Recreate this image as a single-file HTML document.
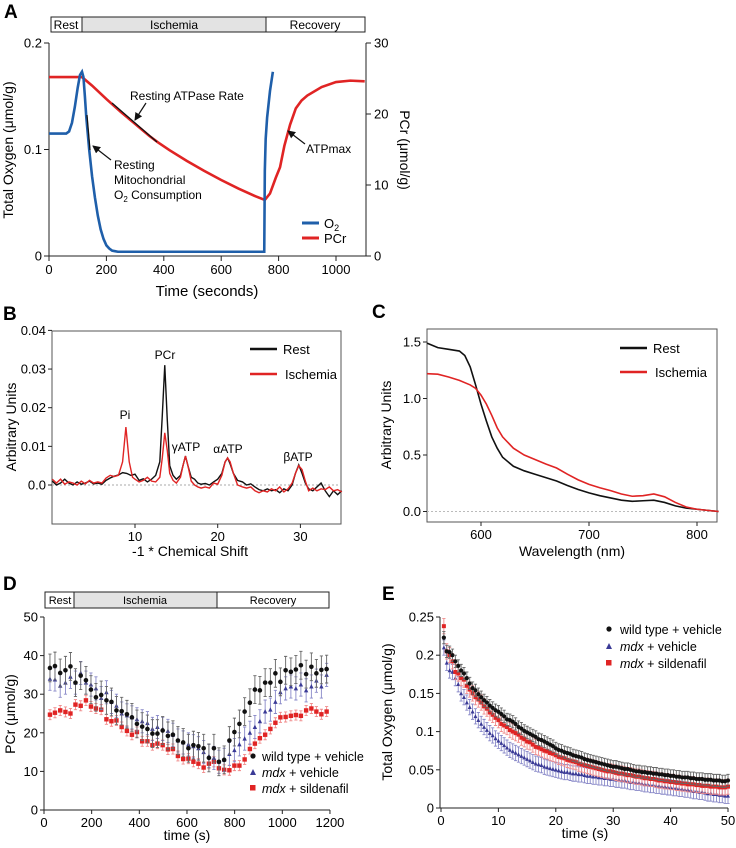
<!DOCTYPE html>
<html><head><meta charset="utf-8"><style>
html,body{margin:0;padding:0;background:#fff}
svg{display:block;font-family:"Liberation Sans",Arial,sans-serif}
</style></head><body>
<svg id="fig" width="736" height="848" viewBox="0 0 736 848" xmlns="http://www.w3.org/2000/svg">
<defs><marker id="ah" markerWidth="8" markerHeight="8" refX="7" refY="4" orient="auto" markerUnits="userSpaceOnUse"><path d="M0,0 L8,4 L0,8 z" fill="#111"/></marker></defs>

<!-- Panel A static -->
<g>
<text x="4" y="18" font-size="19" font-weight="bold">A</text>
<rect x="51" y="17" width="314" height="15" fill="#fff" stroke="#222"/>
<rect x="82" y="17" width="184" height="15" fill="#e3e3e3" stroke="#222"/>
<text x="66" y="29" font-size="12" text-anchor="middle">Rest</text>
<text x="174" y="29" font-size="12" text-anchor="middle">Ischemia</text>
<text x="315" y="29" font-size="12" text-anchor="middle">Recovery</text>
<line x1="49" y1="43" x2="49" y2="256" stroke="#222"/>
<line x1="49" y1="256" x2="366" y2="256" stroke="#222"/>
<line x1="366" y1="43" x2="366" y2="256" stroke="#222"/>
<text transform="translate(13,150) rotate(-90)" font-size="14" text-anchor="middle">Total Oxygen (μmol/g)</text>
<text transform="translate(400,150) rotate(90)" font-size="14" text-anchor="middle">PCr (μmol/g)</text>
<text x="207" y="296" font-size="15" text-anchor="middle">Time (seconds)</text>
<line x1="302" y1="223" x2="319" y2="223" stroke="#1f5faa" stroke-width="3"/>
<text x="324" y="228" font-size="13">O<tspan font-size="9" dy="3">2</tspan></text>
<line x1="302" y1="238" x2="319" y2="238" stroke="#e02424" stroke-width="3"/>
<text x="324" y="243" font-size="13">PCr</text>
<g id="aMarks"></g>
<line x1="112" y1="103" x2="157" y2="142" stroke="#111" stroke-width="1.3"/>
<line x1="87" y1="115" x2="90" y2="150" stroke="#111" stroke-width="1.3"/>
<text x="130" y="100" font-size="12">Resting ATPase Rate</text>
<line x1="146" y1="103" x2="135" y2="120" stroke="#111" stroke-width="1.2" marker-end="url(#ah)"/>
<text font-size="12"><tspan x="114" y="169">Resting</tspan><tspan x="114" y="184">Mitochondrial</tspan><tspan x="114" y="199">O<tspan font-size="8" dy="3">2</tspan><tspan dy="-3"> Consumption</tspan></tspan></text>
<line x1="111" y1="160" x2="93" y2="146" stroke="#111" stroke-width="1.2" marker-end="url(#ah)"/>
<text x="306" y="153" font-size="12">ATPmax</text>
<line x1="305" y1="144" x2="288" y2="131" stroke="#111" stroke-width="1.2" marker-end="url(#ah)"/>
</g>

<!-- Panel B static -->
<g>
<text x="3" y="320" font-size="19" font-weight="bold">B</text>
<rect x="52" y="331" width="289" height="193" fill="none" stroke="#555"/>
<text transform="translate(16,427) rotate(-90)" font-size="14" text-anchor="middle">Arbitrary Units</text>
<text x="190" y="556" font-size="14" text-anchor="middle">-1 * Chemical Shift</text>
<line x1="250" y1="349" x2="277" y2="349" stroke="#111" stroke-width="2.5"/>
<text x="283" y="354" font-size="13">Rest</text>
<line x1="250" y1="374" x2="277" y2="374" stroke="#e02424" stroke-width="2.5"/>
<text x="285" y="379" font-size="13">Ischemia</text>
<text x="125" y="419" font-size="12" text-anchor="middle">Pi</text>
<text x="165" y="359" font-size="12" text-anchor="middle">PCr</text>
<text x="186" y="451" font-size="12" text-anchor="middle">γATP</text>
<text x="228" y="453" font-size="12" text-anchor="middle">αATP</text>
<text x="298" y="461" font-size="12" text-anchor="middle">βATP</text>
<g id="bMarks"></g>
</g>

<!-- Panel C static -->
<g>
<text x="372" y="318" font-size="19" font-weight="bold">C</text>
<rect x="427" y="329" width="290" height="193" fill="none" stroke="#555"/>
<text transform="translate(391,425) rotate(-90)" font-size="14" text-anchor="middle">Arbitrary Units</text>
<text x="572" y="556" font-size="14" text-anchor="middle">Wavelength (nm)</text>
<line x1="620" y1="348" x2="647" y2="348" stroke="#111" stroke-width="2.5"/>
<text x="653" y="353" font-size="13">Rest</text>
<line x1="620" y1="372" x2="647" y2="372" stroke="#e02424" stroke-width="2.5"/>
<text x="655" y="377" font-size="13">Ischemia</text>
<g id="cMarks"></g>
</g>

<!-- Panel D static -->
<g>
<text x="3" y="590" font-size="19" font-weight="bold">D</text>
<rect x="45" y="592" width="284" height="16" fill="#fff" stroke="#222"/>
<rect x="74" y="592" width="143" height="16" fill="#e3e3e3" stroke="#222"/>
<text x="60" y="604" font-size="11" text-anchor="middle">Rest</text>
<text x="145" y="604" font-size="11" text-anchor="middle">Ischemia</text>
<text x="273" y="604" font-size="11" text-anchor="middle">Recovery</text>
<line x1="44" y1="617" x2="44" y2="810" stroke="#222"/>
<line x1="44" y1="810" x2="330" y2="810" stroke="#222"/>
<text transform="translate(15,714) rotate(-90)" font-size="14" text-anchor="middle">PCr (μmol/g)</text>
<text x="187" y="840" font-size="14" text-anchor="middle">time (s)</text>
<circle cx="253" cy="756" r="2.6" fill="#111"/>
<text x="262" y="761" font-size="12.5">wild type + vehicle</text>
<path d="M250,775 L253,769 L256,775 z" fill="#3a3a96"/>
<text x="262" y="777" font-size="12.5"><tspan font-style="italic">mdx</tspan> + vehicle</text>
<rect x="250" y="785" width="5.5" height="5.5" fill="#e02424"/>
<text x="262" y="793" font-size="12.5"><tspan font-style="italic">mdx</tspan> + sildenafil</text>
<g id="dMarks"></g>
</g>

<!-- Panel E static -->
<g>
<text x="382" y="600" font-size="19" font-weight="bold">E</text>
<line x1="440" y1="617" x2="440" y2="808" stroke="#222"/>
<line x1="440" y1="808" x2="728" y2="808" stroke="#222"/>
<text transform="translate(392,712) rotate(-90)" font-size="14" text-anchor="middle">Total Oxygen (μmol/g)</text>
<text x="585" y="838" font-size="14" text-anchor="middle">time (s)</text>
<circle cx="609" cy="629" r="2.6" fill="#111"/>
<text x="620" y="634" font-size="12.5">wild type + vehicle</text>
<path d="M606,649 L609,643 L612,649 z" fill="#3a3a96"/>
<text x="620" y="651" font-size="12.5"><tspan font-style="italic">mdx</tspan> + vehicle</text>
<rect x="606" y="660" width="5.5" height="5.5" fill="#e02424"/>
<text x="620" y="668" font-size="12.5"><tspan font-style="italic">mdx</tspan> + sildenafil</text>
<g id="eMarks"></g>
</g>
</svg>
<script>
// ---- Panel A data ----
const aO2T = [0,60,70,80,90,100,108,115,120,125,130,140,150,160,170,180,190,200,210,220,230,240,260,400,600,750,752,755,760,770,780];
const aO2V = [.115,.115,.117,.125,.140,.158,.170,.173,.168,.150,.130,.100,.075,.055,.038,.025,.016,.010,.007,.005,.0045,.004,.004,.004,.004,.004,.080,.110,.130,.155,.173];
const aPcrT = [0,115,150,200,250,300,350,380,420,480,540,600,660,720,752,770,790,805,820,840,860,880,900,950,1000,1050,1100];
const aPcrV = [25.2,25.2,24.0,22.1,20.3,18.6,16.9,16.0,14.9,13.4,12.0,10.7,9.5,8.4,7.9,8.8,11.0,12.5,15.5,18.5,20.8,21.9,22.6,23.8,24.5,24.7,24.6];
const aXTicks = [0,200,400,600,800,1000];
const aYLTicks = [0,0.1,0.2];
const aYLLabels = ["0","0.1","0.2"];
const aYRTicks = [0,10,20,30];
// ---- Panel B data ----
const bRestX = [0,0.5,1,1.5,2,2.5,3,3.5,4,4.5,5,5.5,6,6.5,7,7.5,8,8.5,9,9.5,10,10.5,11,11.5,12,12.5,13,13.3,13.6,13.9,14.2,14.6,15,15.5,15.8,16.1,16.4,16.8,17.2,17.6,18,18.5,19,19.5,20,20.5,20.9,21.2,21.5,21.9,22.4,23,23.5,24,24.5,25,25.5,26,26.5,27,27.5,28,28.5,29,29.4,29.8,30.2,30.6,31,31.5,32,32.5,33,33.5,34,34.5,35];
const bRestY = [1.0,0,0.5,1.5,0.5,0,0.8,0.2,0.5,1.0,0.3,0.5,0.2,1.2,1.8,2.3,2.6,3.2,3.0,2.5,2.8,1.2,1.6,0.8,1.5,2.5,6,18,31,17,5,2.5,1.5,2.5,5,7.5,5,2,1.5,0.5,0.2,0.4,0,0.8,1.5,3,6,7,5.5,3,1.2,0.8,0,0.3,-0.5,-1.2,-1.5,-1.0,-1.5,-1.2,-2.0,-1.0,-1.5,0,3,5.2,3,0.5,-1,-1.5,-0.5,0.5,-1.5,-3,-1.5,-2.5,-1.5];
const bIschX = [0,0.5,1,1.5,2,2.5,3,3.5,4,4.5,5,5.5,6,6.5,7,7.5,8,8.5,8.9,9.3,9.7,10,10.5,11,11.5,12,12.5,13,13.3,13.6,13.9,14.2,14.6,15,15.5,15.8,16.1,16.4,16.8,17.2,17.6,18,18.5,19,19.5,20,20.5,20.9,21.2,21.5,21.9,22.4,23,23.5,24,24.5,25,25.5,26,26.5,27,27.5,28,28.5,29,29.4,29.8,30.2,30.6,31,31.5,32,32.5,33,33.5,34,34.5,35];
const bIschY = [1.5,0.5,1.5,0.2,0.8,0.5,0,1.0,0.3,1.2,0.5,0.8,0.5,1.8,2.5,2.2,2.5,6,15,6,2,1.5,0.8,1.2,2,1.0,0.8,2,7,13.5,9,3,1.2,0.5,2,5,7.5,5,1,0,-0.5,-0.8,-0.5,-0.8,0.5,0.2,2.5,6,7,6,3,0,-0.5,-0.8,-0.5,-1.5,-2,-1.5,-1.8,-1.0,-1.5,-0.5,-1.8,-1.0,0.5,3,5,4,1,-1.5,-0.8,-1.5,-1.0,-1.2,-0.5,-1.5,-1.2,-1.8];
const bXTicks = [10,20,30];
const bYTicks = [0,0.01,0.02,0.03,0.04];
const bYLabels = ["0.0","0.01","0.02","0.03","0.04"];
// ---- Panel C data ----
const cRestX = [550,560,570,580,585,590,595,600,605,610,615,620,630,640,650,660,670,680,690,700,710,720,730,740,750,760,770,780,790,800,810,820];
const cRestY = [1.49,1.45,1.435,1.42,1.38,1.28,1.12,0.95,0.80,0.66,0.56,0.48,0.40,0.36,0.33,0.30,0.27,0.23,0.195,0.165,0.14,0.12,0.10,0.09,0.095,0.10,0.08,0.05,0.03,0.02,0.01,0];
const cIschX = [550,560,570,580,590,595,600,605,610,615,620,630,640,650,660,670,680,690,700,710,720,730,740,750,760,770,780,790,800,810,820];
const cIschY = [1.22,1.215,1.19,1.16,1.12,1.09,1.03,0.95,0.85,0.74,0.66,0.56,0.50,0.46,0.42,0.385,0.33,0.28,0.24,0.21,0.185,0.155,0.135,0.14,0.155,0.13,0.08,0.04,0.02,0.01,0];
const cXTicks = [600,700,800];
const cYTicks = [0,0.5,1.0,1.5];
const cYLabels = ["0.0","0.5","1.0","1.5"];
// ---- Panel D data ----
const dTime = [25,46,68,90,111,132,154,176,197,218,240,262,283,304,326,348,369,390,412,434,455,476,498,520,541,562,584,606,627,648,670,692,713,734,756,778,799,820,842,864,885,906,928,950,971,992,1014,1036,1057,1078,1100,1122,1143,1164,1186];
const dWT = [36.8,37.3,35.5,36.2,37.2,33.0,34.8,33.6,31.2,29.2,29.8,28.4,28.0,25.8,25.6,24.8,24.0,22.3,21.6,21.0,19.8,19.8,20.6,19.2,19.5,18.0,17.5,16.0,16.8,16.5,16.0,13.5,16.0,12.5,13.0,18.0,20.2,22.3,25.5,27.8,31.2,31.0,33.0,33.0,35.4,33.2,36.2,35.8,36.4,37.5,35.2,37.1,35.4,36.3,36.5];
const dMdx = [34.0,33.8,32.2,33.0,34.5,33.0,35.5,33.0,32.5,31.5,29.0,30.5,28.0,27.0,25.0,24.5,24.0,23.5,23.0,22.5,21.0,21.5,21.0,20.5,19.5,18.0,17.5,17.0,16.5,16.0,15.0,14.0,13.5,12.5,13.0,14.5,15.5,17.0,18.5,20.0,21.5,23.0,25.5,26.0,28.0,30.5,31.5,32.0,31.5,32.5,31.0,32.0,33.5,32.0,35.0];
const dSild = [24.7,25.2,25.8,25.4,25.0,27.3,27.0,28.4,26.8,26.3,26.0,23.5,23.0,23.2,21.5,20.5,19.5,20.2,17.8,17.8,16.8,17.2,16.8,15.7,15.8,14.0,13.2,13.3,12.5,12.0,11.0,12.0,12.5,10.8,10.4,10.3,11.5,11.5,13.1,15.8,17.2,18.6,19.5,21.0,22.6,24.0,24.1,24.4,24.6,24.4,25.8,26.3,25.5,24.8,25.5];
const dErr = [3.6,3.0,1.3];
const dXTicks = [0,200,400,600,800,1000,1200];
const dYTicks = [0,10,20,30,40,50];
// ---- Panel E data ----
const eTime = [0.5,1,1.5,2,2.5,3,3.5,4,4.5,5,5.5,6,6.5,7,7.5,8,8.5,9,9.5,10,10.5,11,11.5,12,12.5,13,13.5,14,14.5,15,15.5,16,16.5,17,17.5,18,18.5,19,19.5,20,20.5,21,21.5,22,22.5,23,23.5,24,24.5,25,25.5,26,26.5,27,27.5,28,28.5,29,29.5,30,30.5,31,31.5,32,32.5,33,33.5,34,34.5,35,35.5,36,36.5,37,37.5,38,38.5,39,39.5,40,40.5,41,41.5,42,42.5,43,43.5,44,44.5,45,45.5,46,46.5,47,47.5,48,48.5,49,49.5,50];
const eWT = [.223,.205,.204,.200,.192,.186,.180,.176,.170,.163,.157,.154,.149,.145,.141,.138,.134,.131,.128,.126,.123,.120,.116,.115,.113,.110,.106,.104,.101,.099,.097,.095,.093,.090,.089,.087,.085,.083,.081,.078,.076,.075,.073,.072,.071,.069,.068,.067,.066,.064,.063,.062,.061,.060,.059,.058,.057,.056,.055,.054,.054,.053,.052,.051,.051,.050,.049,.048,.048,.047,.047,.046,.046,.045,.045,.044,.044,.043,.043,.042,.042,.041,.041,.040,.040,.040,.039,.039,.038,.038,.038,.037,.037,.037,.036,.036,.036,.035,.035,.036];
const eMdx = [.210,.190,.180,.178,.170,.162,.150,.145,.138,.132,.126,.120,.115,.110,.106,.102,.098,.095,.091,.088,.085,.082,.079,.076,.074,.072,.070,.068,.066,.064,.062,.060,.058,.057,.056,.054,.053,.052,.051,.050,.049,.048,.047,.047,.046,.045,.045,.044,.044,.043,.042,.042,.041,.041,.040,.040,.039,.039,.038,.038,.037,.037,.036,.036,.035,.034,.034,.033,.033,.032,.031,.031,.030,.030,.029,.029,.028,.028,.027,.027,.026,.026,.025,.025,.024,.024,.023,.022,.022,.021,.021,.020,.019,.019,.018,.018,.017,.017,.016,.016];
const eSild = [.238,.205,.200,.192,.178,.176,.170,.168,.160,.155,.150,.145,.142,.138,.133,.130,.125,.122,.118,.115,.110,.108,.106,.102,.100,.098,.096,.092,.090,.087,.086,.083,.080,.079,.077,.075,.074,.072,.071,.069,.067,.066,.065,.063,.062,.061,.060,.058,.057,.056,.055,.054,.053,.052,.051,.050,.049,.048,.048,.047,.046,.045,.045,.044,.043,.043,.042,.041,.041,.040,.039,.039,.038,.038,.037,.036,.036,.035,.035,.034,.034,.033,.033,.032,.032,.031,.031,.031,.030,.030,.029,.029,.029,.028,.028,.028,.027,.027,.027,.028];
const eErr = [0.008,0.010,0.010];
const eXTicks = [0,10,20,30,40,50];
const eYTicks = [0,0.05,0.1,0.15,0.2,0.25];
const eYLabels = ["0","0.05","0.1","0.15","0.2","0.25"];

const NS = "http://www.w3.org/2000/svg";
const svg = document.getElementById("fig");
function mk(tag, attrs, parent){const e=document.createElementNS(NS,tag);for(const k in attrs)e.setAttribute(k,attrs[k]);(parent||svg).appendChild(e);return e;}
function pathD(xs,ys,fx,fy){return xs.map((x,i)=>(i?"L":"M")+fx(x).toFixed(2)+","+fy(ys[i]).toFixed(2)).join(" ");}
function xTicks(vals,labels,fx,y0,len,parent,prefix){vals.forEach((v,i)=>{const x=fx(v);
 const t=mk("line",{x1:x,y1:y0,x2:x,y2:y0+len,stroke:"#222"},parent);
 
 
 const l=mk("text",{x:x,y:y0+len+13,"font-size":13,"text-anchor":"middle"},parent);l.textContent=labels[i];
 
 });}
function yTicks(vals,labels,fy,x0,len,parent,prefix,anchor){vals.forEach((v,i)=>{const y=fy(v);
 const t=mk("line",{x1:x0,y1:y,x2:x0+len,y2:y,stroke:"#222"},parent);
 
 
 const l=mk("text",{x:x0+len+(len<0?-2:3),y:y+4.5,"font-size":13,"text-anchor":anchor||"end"},parent);l.textContent=labels[i];
 
 });}

// Panel A
const gA=document.getElementById("aMarks");
const axA=t=>49+t*0.287, ayL=v=>256-v*1065, ayR=v=>256-v*7.1;
xTicks(aXTicks,aXTicks.map(String),axA,256,5,gA,"a");
yTicks(aYLTicks,aYLLabels,ayL,49,-5,gA,"a-left");
yTicks(aYRTicks,aYRTicks.map(String),ayR,366,5,gA,"a-right","start");
const pA1=mk("path",{d:pathD(aPcrT,aPcrV,axA,ayR),fill:"none",stroke:"#e02424","stroke-width":2.6},gA);


const pA2=mk("path",{d:pathD(aO2T,aO2V,axA,ayL),fill:"none",stroke:"#1f5faa","stroke-width":2.6},gA);



// Panel B
const gB=document.getElementById("bMarks");
const bx=v=>52.3+v*8.27, by=v=>485-v*3865;
xTicks(bXTicks,bXTicks.map(String),bx,524,4,gB,"b");
yTicks(bYTicks,bYLabels,by,52,-4,gB,"b");
const b0=mk("line",{x1:52,y1:by(0),x2:341,y2:by(0),stroke:"#aaa","stroke-dasharray":"2,2"},gB);


const pB1=mk("path",{d:pathD(bRestX,bRestY,bx,v=>by(v/1000)),fill:"none",stroke:"#111","stroke-width":1.4},gB);


const pB2=mk("path",{d:pathD(bIschX,bIschY,bx,v=>by(v/1000)),fill:"none",stroke:"#e02424","stroke-width":1.4},gB);



// Panel C
const gC=document.getElementById("cMarks");
const cx=v=>427+(v-550)*1.08, cy=v=>511.5-v*113;
xTicks(cXTicks,cXTicks.map(String),cx,522,4,gC,"c");
yTicks(cYTicks,cYLabels,cy,427,-4,gC,"c");
const c0=mk("line",{x1:427,y1:cy(0),x2:717,y2:cy(0),stroke:"#bbb","stroke-dasharray":"2,2"},gC);


const pC1=mk("path",{d:pathD(cRestX,cRestY,cx,cy),fill:"none",stroke:"#111","stroke-width":1.6},gC);


const pC2=mk("path",{d:pathD(cIschX,cIschY,cx,cy),fill:"none",stroke:"#e02424","stroke-width":1.6},gC);



// markers helper
function marker(shape,x,y,color,parent,s){let e;
 if(shape==="c") e=mk("circle",{cx:x,cy:y,r:s,fill:color},parent);
 else if(shape==="t") e=mk("path",{d:`M${x-s},${y+s*0.9} L${x},${y-s*1.1} L${x+s},${y+s*0.9} z`,fill:color},parent);
 else e=mk("rect",{x:x-s,y:y-s,width:2*s,height:2*s,fill:color},parent);
 return e;}
function errBar(x,y1,y2,color,parent){const e=mk("path",{d:`M${x},${y1} L${x},${y2} M${x-1.6},${y1} L${x+1.6},${y1} M${x-1.6},${y2} L${x+1.6},${y2}`,stroke:color,"stroke-width":0.9,fill:"none"},parent);return e;}

// Panel D
const gD=document.getElementById("dMarks");
const dx=t=>44+t*0.2383, dy=v=>810-v*3.86;
xTicks(dXTicks,dXTicks.map(String),dx,810,4,gD,"d");
yTicks(dYTicks,dYTicks.map(String),dy,44,-4,gD,"d");
const dSeries=[[dSild,"#e02424","#f08a8a","s","sildenafil"],[dMdx,"#3a3a96","#8888c8","t","mdx-vehicle"],[dWT,"#111","#666","c","wild-type"]];
dSeries.forEach((s,si)=>{const vals=s[0];const err=dErr[2-si];
 vals.forEach((v,i)=>{const x=dx(dTime[i]);
  const eb=errBar(x,dy(v+err),dy(v-err),s[2],gD);
  
  
  const m=marker(s[3],x,dy(v),s[1],gD,s[3]==="c"?2.3:2.2);
  
  });});

// Panel E
const gE=document.getElementById("eMarks");
const ex=t=>441+t*5.74, ey=v=>808-v*764;
xTicks(eXTicks,eXTicks.map(String),ex,808,4,gE,"e");
yTicks(eYTicks,eYLabels,ey,440,-4,gE,"e");
const eSeries=[[eMdx,"#3a3a96","#8888c8","t","mdx-vehicle"],[eSild,"#e02424","#f08a8a","s","sildenafil"],[eWT,"#111","#666","c","wild-type"]];
eSeries.forEach((s,si)=>{const vals=s[0];const err=eErr[si===0?1:(si===1?2:0)];
 vals.forEach((v,i)=>{const x=ex(eTime[i]);
  const eb=errBar(x,ey(v+err),ey(v-err),s[2],gE);
  
  
  const m=marker(s[3],x,ey(v),s[1],gE,s[3]==="c"?2.1:2.0);
  
  });});
</script>
</body></html>
